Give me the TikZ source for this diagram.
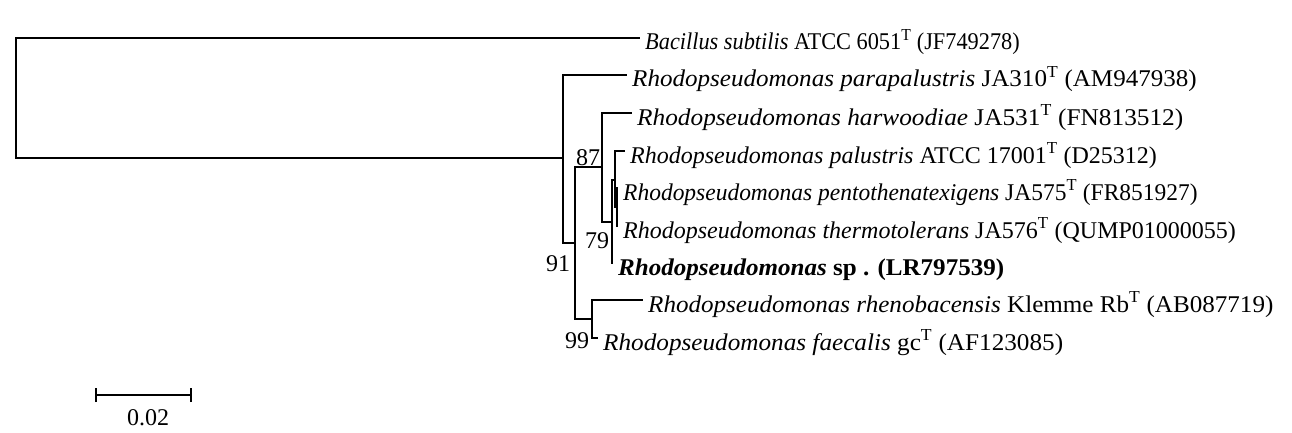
\documentclass[tikz,border=0pt]{standalone}
\usepackage{graphicx}
\usepackage{fontspec}
\setmainfont{Liberation Serif}
\newcommand\hsc[2]{\scalebox{#1}[1]{#2}}
\begin{document}
\begin{tikzpicture}[x=1pt,y=-1pt,
  br/.style={line width=2.6pt, line cap=rect},
  leaf/.style={anchor=west, inner xsep=6pt, inner ysep=0pt, font=\fontsize{24}{28}\selectfont, text height=24pt, text depth=0pt},
  boot/.style={inner sep=0pt, font=\fontsize{24}{28}\selectfont}]
\useasboundingbox (0,0) rectangle (1292,433);
\fill[white] (0,0) rectangle (1292,433);
% internal nodes
\coordinate (r) at (16,158);
\coordinate (A) at (563,158);
\coordinate (B) at (575,243);
\coordinate (C) at (592,319);
\coordinate (D) at (602,167);
\coordinate (E) at (612,222);
\coordinate (F) at (615,180);
\coordinate (G) at (617,207);
% leaves
\node[leaf] (bs) at (639,38) {\hsc{0.93}{\textit{Bacillus subtilis} ATCC 6051\textsuperscript{T} (JF749278)}};
\node[leaf] (pp) at (626,75) {\hsc{1.044}{\textit{Rhodopseudomonas parapalustris} JA310\textsuperscript{T} (AM947938)}};
\node[leaf] (hw) at (631,113) {\hsc{1.054}{\textit{Rhodopseudomonas harwoodiae} JA531\textsuperscript{T} (FN813512)}};
\node[leaf] (pa) at (624,151) {\textit{Rhodopseudomonas palustris} ATCC 17001\textsuperscript{T} (D25312)};
\node[leaf] (pe) at (617,188) {\hsc{0.978}{\textit{Rhodopseudomonas pentothenatexigens} JA575\textsuperscript{T} (FR851927)}};
\node[leaf] (th) at (617,226) {\textit{Rhodopseudomonas thermotolerans} JA576\textsuperscript{T} (QUMP01000055)};
\node[leaf] (sp) at (612,263) {\hsc{1.043}{\textbf{\textit{Rhodopseudomonas} sp . (LR797539)}}};
\node[leaf] (rh) at (642,300) {\hsc{1.045}{\textit{Rhodopseudomonas rhenobacensis} Klemme Rb\textsuperscript{T} (AB087719)}};
\node[leaf] (fa) at (597,338) {\hsc{1.05}{\textit{Rhodopseudomonas faecalis} gc\textsuperscript{T} (AF123085)}};
% branches
\draw[br] (r) |- (bs.west);
\draw[br] (r) -- (A);
\draw[br] (A) |- (pp.west);
\draw[br] (A) |- (B);
\draw[br] (B) |- (D);
\draw[br] (B) |- (C);
\draw[br] (C) |- (rh.west);
\draw[br] (C) |- (fa.west);
\draw[br] (D) |- (hw.west);
\draw[br] (D) |- (E);
\draw[br] (E) |- (F);
\draw[br] (E) |- (sp.west);
\draw[br] (F) |- (pa.west);
\draw[br] (F) |- (G);
\draw[br] (G) |- (pe.west);
\draw[br] (G) |- (th.west);
% bootstrap values
\node[boot] (b87) at (588,158) {87};
\node[boot] (b91) at (558,264) {91};
\node[boot] (b79) at (597,241) {79};
\node[boot] (b99) at (577,341) {99};
% scale bar
\coordinate (s1) at (96,395);
\coordinate (s2) at (191,395);
\draw[br, line cap=butt] (s1) -- (s2);
\draw[br, line cap=butt] ([yshift=-7]s1) -- ([yshift=7]s1);
\draw[br, line cap=butt] ([yshift=-7]s2) -- ([yshift=7]s2);
\node[boot] (sl) at (148,418) {0.02};
\end{tikzpicture}
\end{document}
